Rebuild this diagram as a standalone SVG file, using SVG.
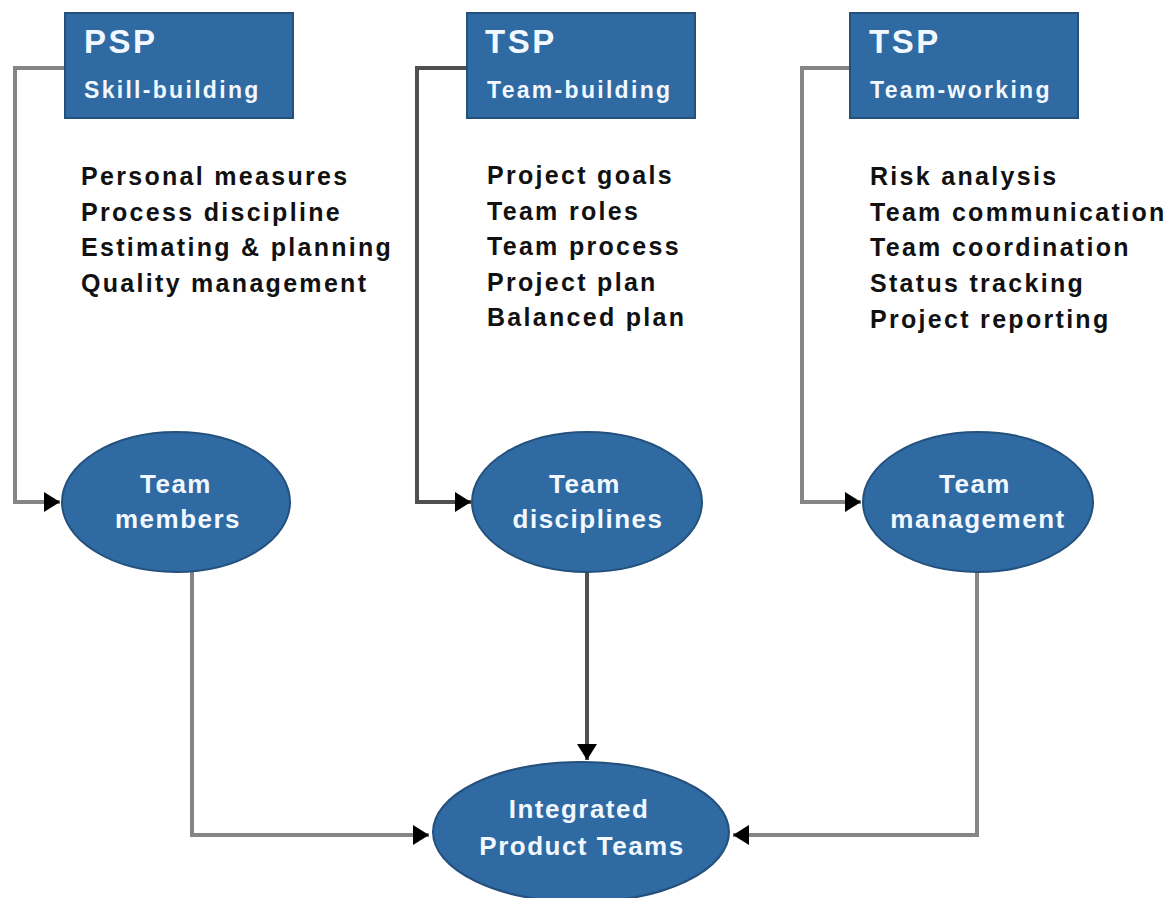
<svg xmlns="http://www.w3.org/2000/svg" width="1173" height="898" viewBox="0 0 1173 898">
<style>
.box{fill:#2f6aa3;stroke:#24507c;stroke-width:2}
.ell{fill:#2f6aa3;stroke:#24507c;stroke-width:2}
.t1{font-family:"Liberation Sans",Arial,sans-serif;font-weight:bold;font-size:33px;fill:#f2f8ff;letter-spacing:2.5px}
.t2{font-family:"Liberation Sans",Arial,sans-serif;font-weight:bold;font-size:23px;fill:#f2f8ff;letter-spacing:2.3px}
.lst{font-family:"Liberation Sans",Arial,sans-serif;font-weight:bold;font-size:25px;fill:#111;letter-spacing:2.3px}
.et{font-family:"Liberation Sans",Arial,sans-serif;font-weight:bold;font-size:26px;fill:#f2f8ff;letter-spacing:1.5px;text-anchor:middle}
.c{fill:none;stroke:#858585;stroke-width:4}
.cd{fill:none;stroke:#505050;stroke-width:4}
</style>
<defs>
<marker id="ah" markerUnits="userSpaceOnUse" markerWidth="18" markerHeight="20" refX="16" refY="10" orient="auto">
<path d="M0,0 L16,10 L0,20 Z" fill="#000"/>
</marker>
</defs>
<rect width="1173" height="898" fill="#fff"/>
<g id="connectors">
<path class="c" d="M65,68 H15 V502 H60" marker-end="url(#ah)"/>
<path class="cd" d="M467,68 H417 V502 H471" marker-end="url(#ah)"/>
<path class="c" d="M850,68 H802 V502 H861" marker-end="url(#ah)"/>
<path class="c" d="M192,572 V835 H429" marker-end="url(#ah)"/>
<path class="cd" d="M587,572 V760" marker-end="url(#ah)"/>
<path class="c" d="M977,572 V835 H733" marker-end="url(#ah)"/>
</g>
<g id="psp">
<rect class="box" x="65" y="13" width="228" height="105"/>
<text class="t1" x="84" y="53">PSP</text>
<text class="t2" x="84" y="98">Skill-building</text>
</g>
<g id="tsp-building">
<rect class="box" x="467" y="13" width="228" height="105"/>
<text class="t1" x="485" y="53">TSP</text>
<text class="t2" x="487" y="98">Team-building</text>
</g>
<g id="tsp-working">
<rect class="box" x="850" y="13" width="228" height="105"/>
<text class="t1" x="869" y="53">TSP</text>
<text class="t2" x="870" y="98">Team-working</text>
</g>
<g id="psp-list">
<text class="lst" x="81" y="185">Personal measures</text>
<text class="lst" x="81" y="221">Process discipline</text>
<text class="lst" x="81" y="256">Estimating &amp; planning</text>
<text class="lst" x="81" y="292">Quality management</text>
</g>
<g id="building-list">
<text class="lst" x="487" y="184">Project goals</text>
<text class="lst" x="487" y="220">Team roles</text>
<text class="lst" x="487" y="255">Team process</text>
<text class="lst" x="487" y="291">Project plan</text>
<text class="lst" x="487" y="326">Balanced plan</text>
</g>
<g id="working-list">
<text class="lst" x="870" y="185">Risk analysis</text>
<text class="lst" x="870" y="221">Team communication</text>
<text class="lst" x="870" y="256">Team coordination</text>
<text class="lst" x="870" y="292">Status tracking</text>
<text class="lst" x="870" y="328">Project reporting</text>
</g>
<g id="team-members">
<ellipse class="ell" cx="176" cy="502" rx="114" ry="70"/>
<text class="et" x="176" y="493">Team</text>
<text class="et" x="178" y="528">members</text>
</g>
<g id="team-disciplines">
<ellipse class="ell" cx="587" cy="502" rx="115" ry="70"/>
<text class="et" x="585" y="493">Team</text>
<text class="et" x="588" y="528">disciplines</text>
</g>
<g id="team-management">
<ellipse class="ell" cx="978" cy="502" rx="115" ry="70"/>
<text class="et" x="975" y="493">Team</text>
<text class="et" x="978" y="528">management</text>
</g>
<g id="integrated-product-teams">
<ellipse class="ell" cx="581" cy="832" rx="148" ry="70"/>
<text class="et" x="579" y="818">Integrated</text>
<text class="et" x="582" y="855">Product Teams</text>
</g>
</svg>
